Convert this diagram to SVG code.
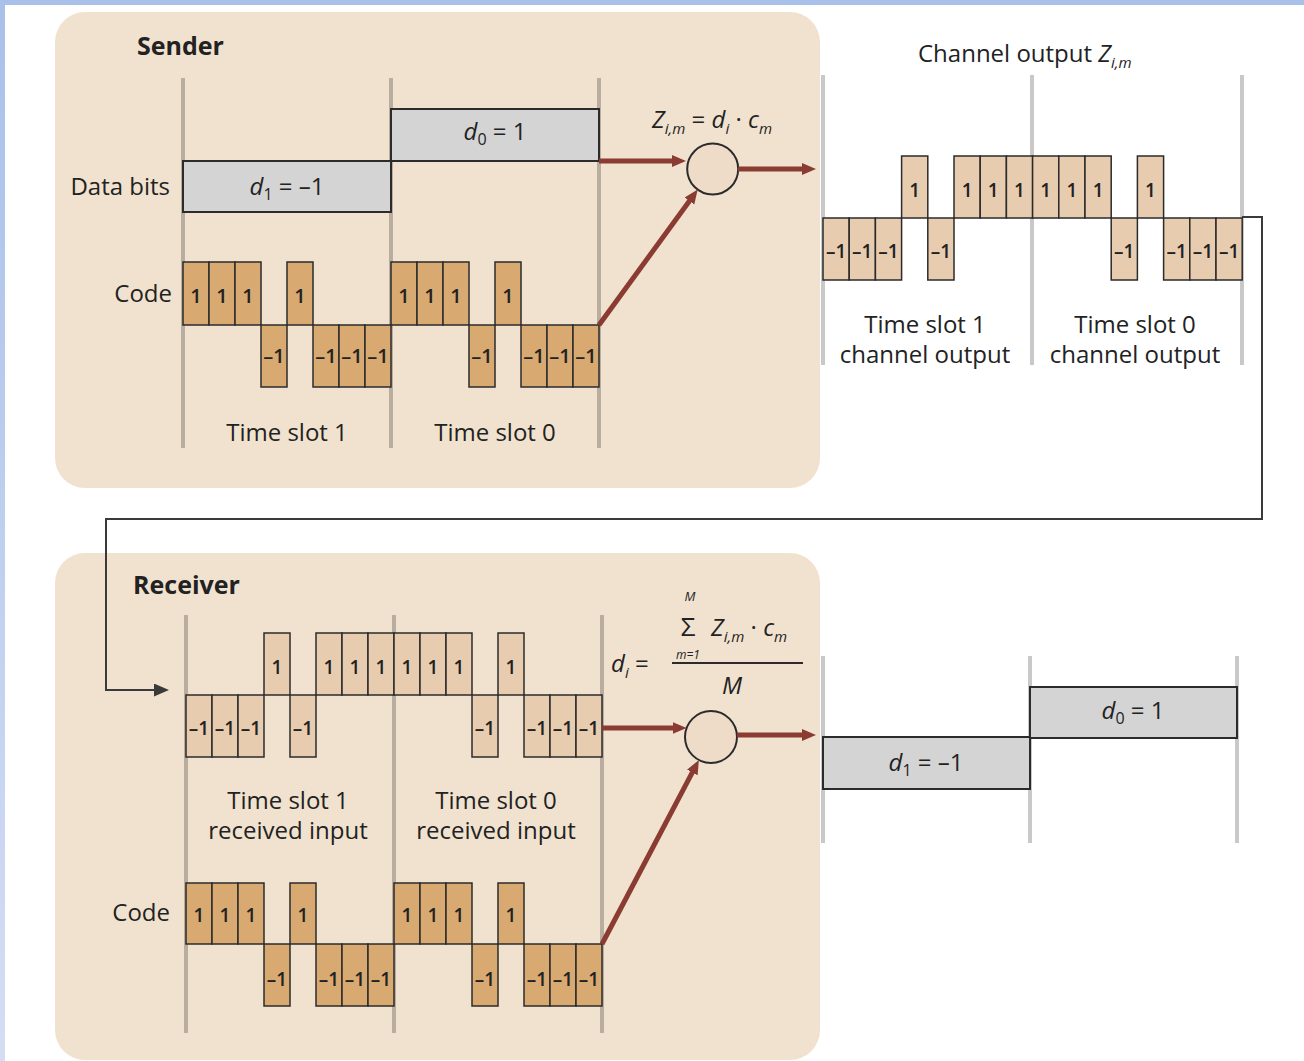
<svg xmlns="http://www.w3.org/2000/svg" width="1304" height="1061" viewBox="0 0 1304 1061">
<defs>
<style>
text{font-family:'Open Sans','Liberation Sans',sans-serif;fill:#222}
.lbl{font-size:24px}
.ttl{font-size:25px;font-weight:bold}
.ct{font-size:20px;font-weight:600;text-anchor:middle}
.ch{font-size:19px;font-weight:600;text-anchor:middle}
.mid{text-anchor:middle}
.end{text-anchor:end}
.it{font-style:italic}
.gl{stroke:#b9ad9f;stroke-width:4}
.gw{stroke:#c9c9c9;stroke-width:4}
.cs{fill:#d8a971;stroke:#2b2b2b;stroke-width:1.5}
.cl{fill:#e8ccb0;stroke:#2b2b2b;stroke-width:1.5}
.bx{fill:#d4d4d4;stroke:#2b2b2b;stroke-width:2}
.ar{stroke:#8a3b32;stroke-width:5;fill:none;marker-end:url(#ah)}
.circ{fill:#efdcc8;stroke:#2b2b2b;stroke-width:2}
.panel{fill:#f1e2cf}
.con{stroke:#3a3a3a;stroke-width:2;fill:none;marker-end:url(#ch)}
</style>
<linearGradient id="blue" x1="0" y1="0" x2="0" y2="1">
<stop offset="0" stop-color="#a9c1ea"/>
<stop offset="1" stop-color="#d4ddf4"/>
</linearGradient>
<marker id="ah" markerUnits="userSpaceOnUse" markerWidth="16" markerHeight="14" refX="4" refY="6" orient="auto">
<path d="M0,0 L14,6 L0,12 z" fill="#8a3b32"/>
</marker>
<marker id="ch" markerUnits="userSpaceOnUse" markerWidth="16" markerHeight="14" refX="1" refY="6.5" orient="auto">
<path d="M0,0 L15,6.5 L0,13 z" fill="#3a3a3a"/>
</marker>
</defs>
<rect x="0" y="0" width="1304" height="1061" fill="#ffffff"/>
<rect x="0" y="0" width="1304" height="5" fill="#a9c1ea"/>
<rect x="0" y="0" width="5" height="1061" fill="url(#blue)"/>

<g id="sender">
<rect class="panel" x="55" y="12" width="765" height="476" rx="30"/>
<text class="ttl" x="137" y="55">Sender</text>
<line class="gl" x1="183" y1="78" x2="183" y2="448"/>
<line class="gl" x1="391" y1="78" x2="391" y2="448"/>
<line class="gl" x1="599" y1="78" x2="599" y2="448"/>
<text class="lbl end" x="170" y="195">Data bits</text>
<rect class="bx" x="183" y="161" width="208" height="51"/>
<rect class="bx" x="391" y="109" width="208" height="52"/>
<text class="lbl mid" x="287" y="195"><tspan class="it">d</tspan><tspan font-size="16" dy="5">1</tspan><tspan dy="-5"> = –1</tspan></text>
<text class="lbl mid" x="495" y="140"><tspan class="it">d</tspan><tspan font-size="16" dy="5">0</tspan><tspan dy="-5"> = 1</tspan></text>
<text class="lbl end" x="172" y="302">Code</text>
<g id="sender-code">
<rect class="cs" x="183" y="262" width="26" height="63"/>
<rect class="cs" x="209" y="262" width="26" height="63"/>
<rect class="cs" x="235" y="262" width="26" height="63"/>
<rect class="cs" x="261" y="325" width="26" height="62"/>
<rect class="cs" x="287" y="262" width="26" height="63"/>
<rect class="cs" x="313" y="325" width="26" height="62"/>
<rect class="cs" x="339" y="325" width="26" height="62"/>
<rect class="cs" x="365" y="325" width="26" height="62"/>
<rect class="cs" x="391" y="262" width="26" height="63"/>
<rect class="cs" x="417" y="262" width="26" height="63"/>
<rect class="cs" x="443" y="262" width="26" height="63"/>
<rect class="cs" x="469" y="325" width="26" height="62"/>
<rect class="cs" x="495" y="262" width="26" height="63"/>
<rect class="cs" x="521" y="325" width="26" height="62"/>
<rect class="cs" x="547" y="325" width="26" height="62"/>
<rect class="cs" x="573" y="325" width="26" height="62"/>
<text class="ct" x="196" y="303">1</text>
<text class="ct" x="222" y="303">1</text>
<text class="ct" x="248" y="303">1</text>
<text class="ct" x="274" y="363">–1</text>
<text class="ct" x="300" y="303">1</text>
<text class="ct" x="326" y="363">–1</text>
<text class="ct" x="352" y="363">–1</text>
<text class="ct" x="378" y="363">–1</text>
<text class="ct" x="404" y="303">1</text>
<text class="ct" x="430" y="303">1</text>
<text class="ct" x="456" y="303">1</text>
<text class="ct" x="482" y="363">–1</text>
<text class="ct" x="508" y="303">1</text>
<text class="ct" x="534" y="363">–1</text>
<text class="ct" x="560" y="363">–1</text>
<text class="ct" x="586" y="363">–1</text>
</g>
<text class="lbl mid" x="287" y="441">Time slot 1</text>
<text class="lbl mid" x="495" y="441">Time slot 0</text>
<text class="lbl mid" x="712" y="128"><tspan class="it">Z</tspan><tspan class="it" font-size="15" dy="6">i,m</tspan><tspan dy="-6"> = </tspan><tspan class="it">d</tspan><tspan class="it" font-size="15" dy="6">i</tspan><tspan dy="-6"> · </tspan><tspan class="it">c</tspan><tspan class="it" font-size="15" dy="6">m</tspan></text>
<circle id="sender-mult" class="circ" cx="712.7" cy="169" r="25.5"/>
</g>

<g id="channel-output">
<text class="lbl" x="918" y="62">Channel output <tspan class="it">Z</tspan><tspan class="it" font-size="15" dy="6">i,m</tspan></text>
<line class="gw" x1="823" y1="75" x2="823" y2="365"/>
<line class="gw" x1="1032" y1="75" x2="1032" y2="365"/>
<line class="gw" x1="1242" y1="75" x2="1242" y2="365"/>
<rect class="cl" x="823" y="218" width="26.2" height="62"/>
<rect class="cl" x="849.2" y="218" width="26.2" height="62"/>
<rect class="cl" x="875.4" y="218" width="26.2" height="62"/>
<rect class="cl" x="901.6" y="156" width="26.2" height="62"/>
<rect class="cl" x="927.8" y="218" width="26.2" height="62"/>
<rect class="cl" x="954" y="156" width="26.2" height="62"/>
<rect class="cl" x="980.2" y="156" width="26.2" height="62"/>
<rect class="cl" x="1006.4" y="156" width="26.2" height="62"/>
<rect class="cl" x="1032.6" y="156" width="26.2" height="62"/>
<rect class="cl" x="1058.8" y="156" width="26.2" height="62"/>
<rect class="cl" x="1085" y="156" width="26.2" height="62"/>
<rect class="cl" x="1111.2" y="218" width="26.2" height="62"/>
<rect class="cl" x="1137.4" y="156" width="26.2" height="62"/>
<rect class="cl" x="1163.6" y="218" width="26.2" height="62"/>
<rect class="cl" x="1189.8" y="218" width="26.2" height="62"/>
<rect class="cl" x="1216" y="218" width="26.2" height="62"/>
<text class="ch" x="836.1" y="258">–1</text>
<text class="ch" x="862.3" y="258">–1</text>
<text class="ch" x="888.5" y="258">–1</text>
<text class="ch" x="914.7" y="197">1</text>
<text class="ch" x="940.9" y="258">–1</text>
<text class="ch" x="967.1" y="197">1</text>
<text class="ch" x="993.3" y="197">1</text>
<text class="ch" x="1019.5" y="197">1</text>
<text class="ch" x="1045.7" y="197">1</text>
<text class="ch" x="1071.9" y="197">1</text>
<text class="ch" x="1098.1" y="197">1</text>
<text class="ch" x="1124.3" y="258">–1</text>
<text class="ch" x="1150.5" y="197">1</text>
<text class="ch" x="1176.7" y="258">–1</text>
<text class="ch" x="1202.9" y="258">–1</text>
<text class="ch" x="1229.1" y="258">–1</text>
<text class="lbl mid"><tspan x="925" y="333">Time slot 1</tspan><tspan x="925" y="363">channel output</tspan></text>
<text class="lbl mid"><tspan x="1135" y="333">Time slot 0</tspan><tspan x="1135" y="363">channel output</tspan></text>
</g>

<g id="receiver">
<rect class="panel" x="55" y="553" width="765" height="507" rx="30"/>
<text class="ttl" x="133" y="594">Receiver</text>
<line class="gl" x1="186" y1="615" x2="186" y2="1033"/>
<line class="gl" x1="394" y1="615" x2="394" y2="1033"/>
<line class="gl" x1="602" y1="615" x2="602" y2="1033"/>
<g id="received-input">
<rect class="cl" x="186" y="695" width="26" height="62"/>
<rect class="cl" x="212" y="695" width="26" height="62"/>
<rect class="cl" x="238" y="695" width="26" height="62"/>
<rect class="cl" x="264" y="633" width="26" height="62"/>
<rect class="cl" x="290" y="695" width="26" height="62"/>
<rect class="cl" x="316" y="633" width="26" height="62"/>
<rect class="cl" x="342" y="633" width="26" height="62"/>
<rect class="cl" x="368" y="633" width="26" height="62"/>
<rect class="cl" x="394" y="633" width="26" height="62"/>
<rect class="cl" x="420" y="633" width="26" height="62"/>
<rect class="cl" x="446" y="633" width="26" height="62"/>
<rect class="cl" x="472" y="695" width="26" height="62"/>
<rect class="cl" x="498" y="633" width="26" height="62"/>
<rect class="cl" x="524" y="695" width="26" height="62"/>
<rect class="cl" x="550" y="695" width="26" height="62"/>
<rect class="cl" x="576" y="695" width="26" height="62"/>
<text class="ch" x="199" y="735">–1</text>
<text class="ch" x="225" y="735">–1</text>
<text class="ch" x="251" y="735">–1</text>
<text class="ch" x="277" y="674">1</text>
<text class="ch" x="303" y="735">–1</text>
<text class="ch" x="329" y="674">1</text>
<text class="ch" x="355" y="674">1</text>
<text class="ch" x="381" y="674">1</text>
<text class="ch" x="407" y="674">1</text>
<text class="ch" x="433" y="674">1</text>
<text class="ch" x="459" y="674">1</text>
<text class="ch" x="485" y="735">–1</text>
<text class="ch" x="511" y="674">1</text>
<text class="ch" x="537" y="735">–1</text>
<text class="ch" x="563" y="735">–1</text>
<text class="ch" x="589" y="735">–1</text>
</g>
<text class="lbl mid"><tspan x="288" y="809">Time slot 1</tspan><tspan x="288" y="839">received input</tspan></text>
<text class="lbl mid"><tspan x="496" y="809">Time slot 0</tspan><tspan x="496" y="839">received input</tspan></text>
<text class="lbl end" x="170" y="921">Code</text>
<g id="receiver-code">
<rect class="cs" x="186" y="883" width="26" height="61"/>
<rect class="cs" x="212" y="883" width="26" height="61"/>
<rect class="cs" x="238" y="883" width="26" height="61"/>
<rect class="cs" x="264" y="944" width="26" height="62"/>
<rect class="cs" x="290" y="883" width="26" height="61"/>
<rect class="cs" x="316" y="944" width="26" height="62"/>
<rect class="cs" x="342" y="944" width="26" height="62"/>
<rect class="cs" x="368" y="944" width="26" height="62"/>
<rect class="cs" x="394" y="883" width="26" height="61"/>
<rect class="cs" x="420" y="883" width="26" height="61"/>
<rect class="cs" x="446" y="883" width="26" height="61"/>
<rect class="cs" x="472" y="944" width="26" height="62"/>
<rect class="cs" x="498" y="883" width="26" height="61"/>
<rect class="cs" x="524" y="944" width="26" height="62"/>
<rect class="cs" x="550" y="944" width="26" height="62"/>
<rect class="cs" x="576" y="944" width="26" height="62"/>
<text class="ch" x="199" y="922">1</text>
<text class="ch" x="225" y="922">1</text>
<text class="ch" x="251" y="922">1</text>
<text class="ch" x="277" y="986">–1</text>
<text class="ch" x="303" y="922">1</text>
<text class="ch" x="329" y="986">–1</text>
<text class="ch" x="355" y="986">–1</text>
<text class="ch" x="381" y="986">–1</text>
<text class="ch" x="407" y="922">1</text>
<text class="ch" x="433" y="922">1</text>
<text class="ch" x="459" y="922">1</text>
<text class="ch" x="485" y="986">–1</text>
<text class="ch" x="511" y="922">1</text>
<text class="ch" x="537" y="986">–1</text>
<text class="ch" x="563" y="986">–1</text>
<text class="ch" x="589" y="986">–1</text>
</g>
<g id="receiver-formula">
<text class="lbl" x="611" y="672"><tspan class="it">d</tspan><tspan class="it" font-size="15" dy="6">i</tspan><tspan dy="-6"> =</tspan></text>
<line x1="672" y1="663" x2="803" y2="663" stroke="#2b2b2b" stroke-width="2"/>
<text class="mid"><tspan class="it" x="690" y="601" font-size="13">M</tspan><tspan x="688" y="636" font-size="26">Σ</tspan><tspan class="it" x="688" y="659" font-size="12">m=1</tspan></text>
<text class="lbl" x="711" y="636"><tspan class="it">Z</tspan><tspan class="it" font-size="15" dy="6">i,m</tspan><tspan dy="-6"> · </tspan><tspan class="it">c</tspan><tspan class="it" font-size="15" dy="6">m</tspan></text>
<text class="lbl it mid" x="732" y="694">M</text>
</g>
<circle id="receiver-mult" class="circ" cx="711" cy="737" r="26"/>
</g>

<g id="output-bits">
<line class="gw" x1="823" y1="656" x2="823" y2="843"/>
<line class="gw" x1="1030" y1="656" x2="1030" y2="843"/>
<line class="gw" x1="1237" y1="656" x2="1237" y2="843"/>
<rect class="bx" x="823" y="737" width="207" height="52"/>
<rect class="bx" x="1030" y="687" width="207" height="51"/>
<text class="lbl mid" x="926" y="771"><tspan class="it">d</tspan><tspan font-size="16" dy="5">1</tspan><tspan dy="-5"> = –1</tspan></text>
<text class="lbl mid" x="1133" y="719"><tspan class="it">d</tspan><tspan font-size="16" dy="5">0</tspan><tspan dy="-5"> = 1</tspan></text>
</g>

<g id="connectors">
<line class="ar" x1="599" y1="161" x2="676" y2="161"/>
<line class="ar" x1="599" y1="325" x2="691.8" y2="197.7"/>
<line class="ar" x1="738" y1="169" x2="806" y2="169"/>
<line class="ar" x1="602" y1="728" x2="676.6" y2="728"/>
<line class="ar" x1="602" y1="944" x2="694.2" y2="768.9"/>
<line class="ar" x1="737" y1="735" x2="806" y2="735"/>
<path class="con" d="M1242,217 H1262 V519 H106 V690 H155"/>
</g>
</svg>
